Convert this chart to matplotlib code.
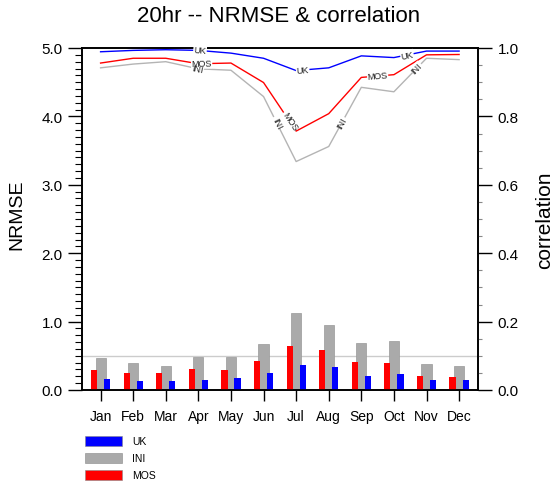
import numpy as np
import matplotlib
matplotlib.use("Agg")
import matplotlib.pyplot as plt
from matplotlib.patches import Rectangle

plt.rcParams['font.family'] = ['Liberation Sans', 'DejaVu Sans']

months = ["Jan", "Feb", "Mar", "Apr", "May", "Jun", "Jul", "Aug", "Sep", "Oct", "Nov", "Dec"]

# NRMSE (left axis, bars)
nrmse_mos = [0.29, 0.25, 0.25, 0.31, 0.29, 0.43, 0.65, 0.58, 0.41, 0.39, 0.20, 0.19]
nrmse_ini = [0.47, 0.39, 0.35, 0.48, 0.48, 0.67, 1.13, 0.95, 0.69, 0.71, 0.38, 0.35]
nrmse_uk = [0.16, 0.13, 0.13, 0.15, 0.17, 0.25, 0.36, 0.33, 0.21, 0.23, 0.14, 0.14]

# correlation (right axis, lines)
corr_uk = [0.989, 0.993, 0.995, 0.993, 0.985, 0.970, 0.934, 0.942, 0.977, 0.972, 0.991, 0.991]
corr_mos = [0.956, 0.970, 0.970, 0.954, 0.956, 0.899, 0.757, 0.808, 0.914, 0.922, 0.980, 0.981]
corr_ini = [0.942, 0.953, 0.960, 0.939, 0.935, 0.858, 0.668, 0.712, 0.885, 0.872, 0.970, 0.966]

# label positions along lines (fractional month index)
lab_uk = [4.05, 7.2, 10.4]
lab_mos = [4.1, 6.8, 9.5]
lab_ini = [3.98, 6.4, 8.4, 10.7]

C_BLUE = "#0000ff"
C_RED = "#ff0000"
C_GRAYBAR = "#aaaaaa"
C_GRAYLINE = "#b4b4b4"

fig = plt.figure(figsize=(5.57, 4.85), dpi=100)
L, R, T, B = 82 / 557, 478 / 557, 1 - 49 / 485, 1 - 391 / 485
ax = fig.add_axes([L, B, R - L, T - B])
ax2 = ax.twinx()

x = np.arange(1, 13)
ax.axhline(0.5, color="#cccccc", lw=1.0, zorder=1)
ax.bar(x, nrmse_ini, width=0.31, color=C_GRAYBAR, edgecolor="#999999", linewidth=0.5, zorder=2)
ax.bar(x - 0.2, nrmse_mos, width=0.19, color=C_RED, linewidth=0, zorder=3)
ax.bar(x + 0.2, nrmse_uk, width=0.19, color=C_BLUE, linewidth=0, zorder=3)

ax.set_xlim(0.43, 12.58)
ax.set_ylim(0, 5)
ax2.set_ylim(0, 1)

ax.set_xticks(x)
ax.set_xticklabels(months, fontsize=10)
ax.set_yticks(np.arange(0, 5.01, 1))
ax.set_yticklabels([f"{v:.1f}" for v in np.arange(0, 5.01, 1)], fontsize=11)
ax.set_yticks(np.arange(0, 5.01, 0.1), minor=True)
ax.tick_params(axis="x", which="major", direction="out", length=8, width=1, pad=6)
ax.tick_params(axis="y", which="major", direction="out", length=10, width=1, pad=4)
ax.tick_params(axis="y", which="minor", direction="out", length=5, width=0.8)
ax2.set_yticks(np.arange(0, 1.01, 0.2))
ax2.set_yticklabels([f"{v:.1f}" for v in np.arange(0, 1.01, 0.2)], fontsize=11)
ax2.set_yticks(np.arange(0, 1.01, 0.05), minor=True)
ax2.tick_params(axis="y", which="major", direction="out", length=10, width=1, pad=4)
ax2.tick_params(axis="y", which="minor", direction="out", length=3, width=0.8, color="#888888")

for a in (ax, ax2):
    for s in a.spines.values():
        s.set_linewidth(1.2)

fig.text(17 / 557, 1 - 215 / 485, "NRMSE", rotation=90, ha="center", va="center", fontsize=14)
ax2.set_ylabel("correlation", fontsize=15, labelpad=12)
fig.text(0.5, 1 - 17 / 485, "20hr -- NRMSE & correlation", ha="center", va="center", fontsize=16)

for vals, col in ((corr_ini, C_GRAYLINE), (corr_mos, C_RED), (corr_uk, C_BLUE)):
    ax2.plot(x, vals, color=col, lw=1.0, zorder=3)


def add_labels(vals, positions, text):
    for p in positions:
        i = int(np.floor(p))
        i = min(max(i, 1), 11)
        f = p - i
        yv = vals[i - 1] + f * (vals[i] - vals[i - 1])
        p0 = ax2.transData.transform((i, vals[i - 1]))
        p1 = ax2.transData.transform((i + 1, vals[i]))
        ang = np.degrees(np.arctan2(p1[1] - p0[1], p1[0] - p0[0]))
        kw = dict(fontsize=6.5, rotation=ang, rotation_mode="anchor",
                  ha="center", va="center")
        # gap in the line (white box), then the text itself on top
        ax2.text(p, yv, text, color="white", zorder=4,
                 bbox=dict(boxstyle="square,pad=0.05", fc="white", ec="none"), **kw)
        ax2.text(p, yv, text, color="#222222", zorder=6, **kw)


add_labels(corr_ini, lab_ini, "INI")
add_labels(corr_mos, lab_mos, "MOS")
add_labels(corr_uk, lab_uk, "UK")

# legend below plot
for yc, col, lab in ((442, C_BLUE, "UK"), (459, C_GRAYBAR, "INI"), (476, C_RED, "MOS")):
    fig.add_artist(Rectangle((85 / 557, 1 - (yc + 5) / 485), 37 / 557, 10 / 485,
                             transform=fig.transFigure, facecolor=col,
                             edgecolor="#888888", linewidth=0.4))
    fig.text(132 / 557, 1 - yc / 485, lab, fontsize=7.5, va="center", ha="left")

fig.savefig("out.png", dpi=100)
